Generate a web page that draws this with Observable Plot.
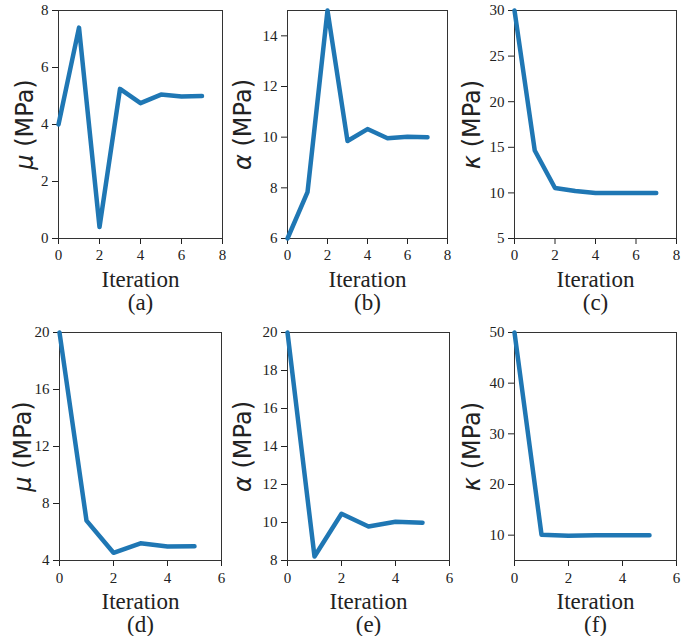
<!DOCTYPE html>
<html>
<head>
<meta charset="utf-8">
<script src="https://cdn.jsdelivr.net/npm/d3@7"></script>
<script src="https://cdn.jsdelivr.net/npm/@observablehq/plot@0.6"></script>
<style>
  body { margin: 0; background: white; }
  #chart { position: relative; width: 685px; height: 636px; background: white; }
  #chart > div, #chart > svg { position: absolute; }
</style>
</head>
<body>
<div id="chart"></div>
<script>
// ---- data ----
const iterTop = [0, 1, 2, 3, 4, 5, 6, 7];
const iterBottom = [0, 1, 2, 3, 4, 5];
const muA = [4.0, 7.4, 0.4, 5.25, 4.75, 5.05, 4.98, 5.0];
const alphaB = [6.0, 7.83, 15.0, 9.85, 10.32, 9.96, 10.02, 10.0];
const kappaC = [30, 14.65, 10.54, 10.2, 10.0, 10.0, 10.0, 10.0];
const muD = [20, 6.8, 4.54, 5.21, 4.98, 5.0];
const alphaE = [20, 8.21, 10.46, 9.79, 10.04, 9.99];
const kappaF = [50, 10.1, 9.9, 10.0, 10.0, 10.0];

const xTicksTop = [0, 2, 4, 6, 8];
const xTicksBottom = [0, 2, 4, 6];
const yTicksA = [0, 2, 4, 6, 8];
const yTicksB = [6, 8, 10, 12, 14];
const yTicksC = [5, 10, 15, 20, 25, 30];
const yTicksD = [4, 8, 12, 16, 20];
const yTicksE = [8, 10, 12, 14, 16, 18, 20];
const yTicksF = [10, 20, 30, 40, 50];

const symbols = ["μ", "α", "κ"];
const captions = ["(a)", "(b)", "(c)", "(d)", "(e)", "(f)"];
const xLabel = "Iteration";

const panels = [
  {iter: iterTop, vals: muA, xd: [0, 8], xt: xTicksTop, yd: [0, 8], yt: yTicksA, sym: symbols[0], cap: captions[0],
   left: 0, top: 0, w: 228, ml: 58, mr: 6, mt: 10, mb: 80, ylOff: 33, row: 0},
  {iter: iterTop, vals: alphaB, xd: [0, 8], xt: xTicksTop, yd: [6, 15], yt: yTicksB, sym: symbols[1], cap: captions[1],
   left: 228, top: 0, w: 229, ml: 59, mr: 10, mt: 10, mb: 80, ylOff: 44, row: 0},
  {iter: iterTop, vals: kappaC, xd: [0, 8], xt: xTicksTop, yd: [5, 30], yt: yTicksC, sym: symbols[2], cap: captions[2],
   left: 457, top: 0, w: 228, ml: 57, mr: 9, mt: 10, mb: 80, ylOff: 42, row: 0},
  {iter: iterBottom, vals: muD, xd: [0, 6], xt: xTicksBottom, yd: [4, 20], yt: yTicksD, sym: symbols[0], cap: captions[3],
   left: 0, top: 318, w: 228, ml: 59, mr: 7, mt: 14, mb: 76, ylOff: 36, row: 1},
  {iter: iterBottom, vals: alphaE, xd: [0, 6], xt: xTicksBottom, yd: [8, 20], yt: yTicksE, sym: symbols[1], cap: captions[4],
   left: 228, top: 318, w: 229, ml: 59, mr: 8, mt: 14, mb: 76, ylOff: 44, row: 1},
  {iter: iterBottom, vals: kappaF, xd: [0, 6], xt: xTicksBottom, yd: [5, 50], yt: yTicksF, sym: symbols[2], cap: captions[5],
   left: 457, top: 318, w: 228, ml: 57, mr: 9, mt: 14, mb: 76, ylOff: 42, row: 1}
];

const chart = document.getElementById("chart");
const lineColor = "#1f77b4";

panels.forEach(p => {
  const data = p.iter.map((it, i) => ({iter: it, val: p.vals[i]}));
  const yLabel = p.sym + " (MPa)";
  const plot = Plot.plot({
    width: p.w,
    height: 318,
    marginLeft: p.ml,
    marginRight: p.mr,
    marginTop: p.mt,
    marginBottom: p.mb,
    style: {fontFamily: "'Liberation Serif', serif", fontSize: "15px", color: "#222", background: "transparent", overflow: "visible"},
    x: {domain: p.xd, ticks: p.xt, label: null, tickSize: 6, tickPadding: p.row === 0 ? 5 : 6, tickFormat: d => String(d)},
    y: {domain: p.yd, ticks: p.yt, label: null, tickSize: 6, tickPadding: 4, tickFormat: d => String(d)},
    marks: [
      Plot.frame({stroke: "#333", strokeWidth: 1}),
      Plot.line(data, {x: "iter", y: "val", stroke: lineColor, strokeWidth: 4.5}),
      Plot.text([xLabel], {frameAnchor: "bottom", dy: 41.5, fontSize: 23, fill: "#222", lineAnchor: "middle"}),
      Plot.text([p.cap], {frameAnchor: "bottom", dy: 64.5, fontSize: 23, fill: "#222", lineAnchor: "middle"}),
      Plot.text([yLabel], {frameAnchor: "left", dx: -p.ylOff, rotate: -90, fontSize: 24, fill: "#222",
        fontFamily: "'DejaVu Sans', sans-serif", lineAnchor: "middle", textAnchor: "middle"})
    ]
  });
  plot.style.left = p.left + "px";
  plot.style.top = p.top + "px";
  // italic symbol in y label
  d3.select(plot).selectAll("text").filter(function() { return this.textContent === yLabel; })
    .each(function() {
      const t = d3.select(this);
      t.text(null);
      t.append("tspan").attr("font-style", "italic").text(p.sym);
      t.append("tspan").text(" (MPa)");
    });
  chart.appendChild(plot);
});
</script>
</body>
</html>
